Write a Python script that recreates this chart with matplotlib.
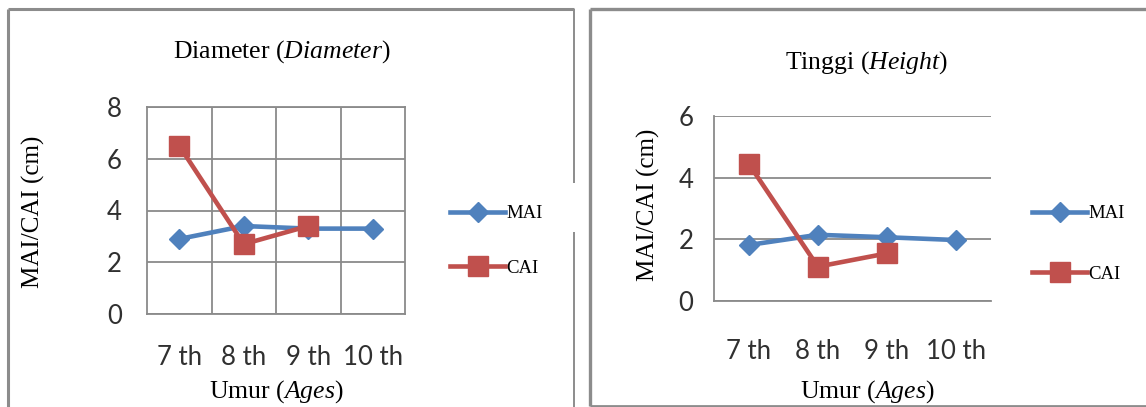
import matplotlib
matplotlib.use("Agg")
import matplotlib.pyplot as plt
from matplotlib.lines import Line2D

# ---- data -------------------------------------------------------------
ages = ["7 th", "8 th", "9 th", "10 th"]

diam_mai = [2.9, 3.4, 3.3, 3.3]
diam_cai = [6.5, 2.7, 3.4]

height_mai = [1.82, 2.15, 2.07, 1.98]
height_cai = [4.45, 1.12, 1.55]

diam_yticks = [0, 2, 4, 6, 8]
height_yticks = [0, 2, 4, 6]

# ---- style ------------------------------------------------------------
W, H = 1146, 407
DPI = 100
BLUE = "#4F81BD"
RED = "#C0504D"
GRID = "#8A8A8A"
FRAME = "#8C8C8C"
SERIF = "Liberation Serif"
SANS = "Lato"

plt.rcParams["mathtext.fontset"] = "custom"
plt.rcParams["mathtext.it"] = "Liberation Serif:italic"
plt.rcParams["mathtext.rm"] = "Liberation Serif"

fig = plt.figure(figsize=(W / DPI, H / DPI), dpi=DPI)
fig.patch.set_facecolor("white")


def px_axes(x0, y0, x1, y1, **kw):
    """Axes placed by pixel box (left, top, right, bottom)."""
    return fig.add_axes([x0 / W, 1 - y1 / H, (x1 - x0) / W, (y1 - y0) / H], **kw)


# panel frames drawn on a full-figure overlay in pixel units
bg = fig.add_axes([0, 0, 1, 1], zorder=-5)
bg.set_xlim(0, W)
bg.set_ylim(H, 0)
bg.axis("off")
frame_segments = [
    ((8, 8), (9, H), 2.2),
    ((8, 574), (9, 9), 2.2),
    ((574, 574), (9, 183), 1.4),
    ((574, 574), (232, H), 1.4),
    ((590, 590), (9, 406), 2.4),
    ((590, W), (9, 9), 2.4),
    ((590, W), (406, 406), 2.0),
]
for xs, ys, lw in frame_segments:
    bg.add_line(Line2D(xs, ys, color=FRAME, lw=lw, solid_capstyle="butt"))


def draw_chart(ax, mai, cai, yticks, title, full_grid, ylab_xy, title_xy,
               xlab_xy, xtick_pad, ytick_pad, legend_anchor, legend_spacing):
    x_mai = list(range(len(mai)))
    x_cai = list(range(len(cai)))
    ax.plot(x_mai, mai, color=BLUE, lw=3.3, marker="D", ms=10.5,
            mfc=BLUE, mec=BLUE, label="MAI", zorder=3)
    ax.plot(x_cai, cai, color=RED, lw=3.3, marker="s", ms=14,
            mfc=RED, mec=RED, label="CAI", zorder=4)

    ax.set_xlim(-0.5, len(ages) - 0.5)
    ax.set_ylim(yticks[0], yticks[-1])
    ax.set_xticks(range(len(ages)))
    ax.set_xticklabels(ages, fontname=SANS, fontsize=18.5, color="#303030")
    ax.set_yticks(yticks)
    ax.set_yticklabels([str(t) for t in yticks], fontname=SANS,
                       fontsize=18.5, color="#303030")
    ax.tick_params(axis="both", length=0)
    ax.tick_params(axis="x", pad=xtick_pad)
    ax.tick_params(axis="y", pad=ytick_pad)

    ax.grid(axis="y", color=GRID, lw=1.3)
    if full_grid:
        ax.set_xticks([0.5, 1.5, 2.5], minor=True)
        ax.tick_params(axis="x", which="minor", length=0)
        ax.grid(axis="x", which="minor", color=GRID, lw=1.3)
        for s in ax.spines.values():
            s.set_color(GRID)
            s.set_linewidth(1.3)
    else:
        ax.spines["top"].set_visible(False)
        ax.spines["right"].set_visible(False)
        for s in ("left", "bottom"):
            ax.spines[s].set_color(GRID)
            ax.spines[s].set_linewidth(1.3)
    ax.set_axisbelow(True)

    # title and axis titles (regular + italic parts)
    plain, ital = title
    fig.text(title_xy[0] / W, 1 - title_xy[1] / H,
             plain + r" ($\mathit{" + ital + r"}$)", ha="center", va="center",
             fontname=SERIF, fontsize=18.5)
    fig.text(ylab_xy[0] / W, 1 - ylab_xy[1] / H, "MAI/CAI (cm)", rotation=90,
             ha="center", va="center", fontname=SERIF, fontsize=18)
    fig.text(xlab_xy[0] / W, 1 - xlab_xy[1] / H, r"Umur ($\mathit{Ages}$)",
             ha="center", va="center", fontname=SERIF, fontsize=18.5)

    fig.legend(handles=ax.get_lines(), loc="center left",
               bbox_to_anchor=(legend_anchor[0] / W, 1 - legend_anchor[1] / H),
               frameon=False, numpoints=1, handlelength=2.95,
               handletextpad=0.05, labelspacing=legend_spacing, borderpad=0,
               borderaxespad=0,
               prop={"family": SERIF, "size": 13.5})


ax1 = px_axes(147, 107, 405, 314)
draw_chart(ax1, diam_mai, diam_cai, diam_yticks, ("Diameter", "Diameter"),
           True, (33, 212), (282, 52), (276, 392), 22, 18,
           (450, 241), 2.0)

ax2 = px_axes(714, 115.7, 991, 301.3)
draw_chart(ax2, height_mai, height_cai, height_yticks, ("Tinggi", "Height"),
           False, (648, 205), (867, 63), (867, 392), 27, 15,
           (1032, 244), 2.3)

fig.savefig("out.png", dpi=DPI, facecolor="white")
